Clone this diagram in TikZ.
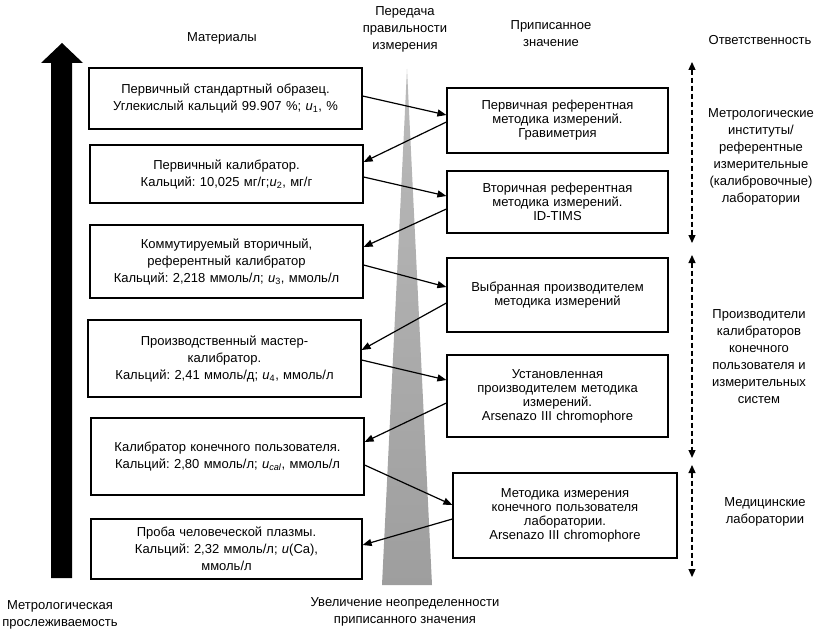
\documentclass[tikz,border=0pt]{standalone}
\usepackage{fontspec}
\setmainfont{Liberation Sans}
\frenchspacing
\colorlet{UncertaintyTop}{black!27}
\colorlet{UncertaintyBottom}{black!38}
\usetikzlibrary{calc, arrows.meta}
\tikzset{
    mat box/.style={draw=black, line width=1.2pt, fill=white, align=center,
        inner sep=0pt, text width=263pt, minimum width=273pt},
    val box/.style={draw=black, line width=1.2pt, fill=white, align=center,
        inner sep=0pt, text width=211pt, minimum width=221pt,
        font=\fontsize{13}{14}\selectfont},
    link/.style={-{Triangle[length=9pt,width=7pt]}, line width=1.2pt},
    resp/.style={{Triangle[length=8pt,width=7pt]}-{Triangle[length=8pt,width=7pt]},
        dash pattern=on 5pt off 3pt, line width=1.2pt}
}

\begin{document}
\begin{tikzpicture}[x=1pt, y=-1pt, font=\fontsize{13}{17}\selectfont]

    \useasboundingbox (0,0) rectangle (818,631);

    % Прослеживаемость и неопределенность
    \fill (51,578) -- (51,63) -- (41,63) -- (62,43) -- (83,63)
    -- (72,63) -- (72,578) -- cycle;
    \shade [top color=UncertaintyTop, bottom color=UncertaintyBottom]
    (407,69) -- (432,585) -- (382,585) -- cycle;

    % Заголовки столбцов
    \node (hmat) at (222,38) {Материалы};
    \node [align=center] (htrans) at (405,29) {Передача\\правильности\\измерения};
    \node [align=center] (hval) at (551,34) {Приписанное\\значение};
    \node (hresp) at (760,40) {Ответственность};

    % Материалы
    \node [mat box, minimum height=61pt] (L1) at (225.5,98.5)
    {Первичный стандартный образец.\\Углекислый кальций 99.907 \%; \textit{u}\textsubscript{1}, \%};
    \node [mat box, minimum height=58pt] (L2) at (226.5,174)
    {Первичный калибратор.\\Кальций: 10,025 мг/г;\textit{u}\textsubscript{2}, мг/г};
    \node [mat box, minimum height=73pt] (L3) at (226.5,261.5)
    {Коммутируемый вторичный,\\референтный калибратор\\Кальций: 2,218 ммоль/л; \textit{u}\textsubscript{3}, ммоль/л};
    \node [mat box, minimum height=77pt] (L4) at (224.5,358.5)
    {Производственный мастер-\\калибратор.\\Кальций: 2,41 ммоль/д; \textit{u}\textsubscript{4}, ммоль/л};
    \node [mat box, minimum height=77pt] (L5) at (227.5,456.5)
    {Калибратор конечного пользователя.\\Кальций: 2,80 ммоль/л; \textit{u}\textsubscript{\textit{cal}}, ммоль/л};
    \node [mat box, minimum height=60pt, minimum width=271pt] (L6) at (226.5,549)
    {Проба человеческой плазмы.\\Кальций: 2,32 ммоль/л; \textit{u}(Ca),\\ммоль/л};

    % Методики
    \node [val box, minimum height=65pt] (R1) at (557.5,120.5)
    {Первичная референтная\\методика измерений.\\Гравиметрия};
    \node [val box, minimum height=62pt] (R2) at (557.5,202)
    {Вторичная референтная\\методика измерений.\\ID-TIMS};
    \node [val box, minimum height=74pt] (R3) at (557.5,295)
    {Выбранная производителем\\методика измерений};
    \node [val box, minimum height=82pt] (R4) at (557.5,396)
    {Установленная\\производителем методика\\измерений.\\Arsenazo III chromophore};
    \node [val box, minimum height=85pt, minimum width=224pt] (R5) at (565,515.5)
    {Методика измерения\\конечного пользователя\\лаборатории.\\Arsenazo III chromophore};

    % Передача значения
    \draw [link] ($(L1.east)+(0,-2.5)$) -- ($(R1.west)+(0,-5.5)$);
    \draw [link] ($(R1.west)+(0,1.5)$) -- ($(L2.east)+(0,-12)$);
    \draw [link] ($(L2.east)+(0,3)$) -- ($(R2.west)+(0,-6)$);
    \draw [link] ($(R2.west)+(0,7)$) -- ($(L3.east)+(0,-14.5)$);
    \draw [link] ($(L3.east)+(0,3.5)$) -- ($(R3.west)+(0,-8)$);
    \draw [link] ($(R3.west)+(0,8)$) -- ($(L4.east)+(0,-8.5)$);
    \draw [link] ($(L4.east)+(0,1.5)$) -- ($(R4.west)+(0,-16)$);
    \draw [link] ($(R4.west)+(0,7)$) -- ($(L5.east)+(0,-14.5)$);
    \draw [link] ($(L5.east)+(0,8.5)$) -- ($(R5.west)+(0,-10.5)$);
    \draw [link] ($(R5.west)+(0,3.5)$) -- ($(L6.east)+(0,-4)$);

    % Ответственность
    \coordinate (D1a) at (692,62);
    \coordinate (D1b) at (692,243);
    \coordinate (D2a) at (692,255);
    \coordinate (D2b) at (692,458);
    \coordinate (D3a) at (692,465);
    \coordinate (D3b) at (692,577);
    \draw [resp] (D1a) -- (D1b);
    \draw [resp] (D2a) -- (D2b);
    \draw [resp] (D3a) -- (D3b);

    \node [align=center] (metro) at (761,157)
    {Метрологические\\институты/\\референтные\\измерительные\\(калибровочные)\\лаборатории};
    \node [align=center] (makers) at (759,357)
    {Производители\\калибраторов\\конечного\\пользователя и\\измерительных\\систем};
    \node [align=center] (medlab) at (765,512) {Медицинские\\лаборатории};

    % Подписи внизу
    \node [align=center] (ltrace) at (60,615) {Метрологическая\\прослеживаемость};
    \node [align=center] (lunc) at (405,612) {Увеличение неопределенности\\приписанного значения};

\end{tikzpicture}
\end{document}
